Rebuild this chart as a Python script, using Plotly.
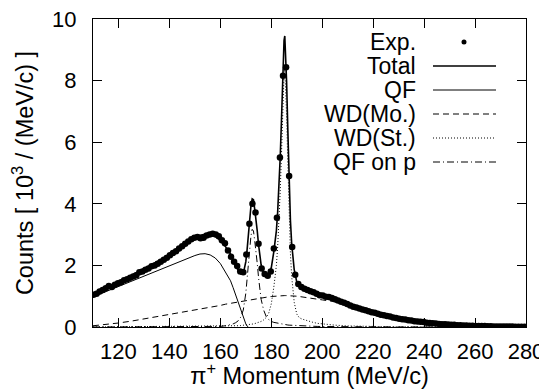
import plotly.graph_objects as go

# ---------------- experimental points ----------------
exp_x = [
    110.2, 111.4, 112.6, 113.8, 115.0, 116.2, 117.4, 118.6, 119.8, 121.0,
    122.2, 123.4, 124.6, 125.8, 127.0, 128.2, 129.4, 130.6, 131.8, 133.0,
    134.2, 135.4, 136.6, 137.8, 139.0, 140.2, 141.4, 142.6, 143.8, 145.0,
    146.2, 147.4, 148.6, 149.8, 151.0, 152.2, 153.4, 154.6, 155.8, 157.0,
    158.2, 159.4, 160.6, 161.8, 163.0, 164.2, 165.4, 166.6, 167.8, 169.0,
    170.2, 171.4, 172.6, 173.8, 175.0, 176.2, 177.4, 178.6, 179.8, 181.0,
    182.2, 183.4, 184.6, 185.8, 187.0, 188.2, 189.4, 190.6, 191.8, 193.0,
    194.2, 195.4, 196.6, 197.8, 199.0, 200.2, 201.4, 202.6, 203.8, 205.0,
    206.2, 207.4, 208.6, 209.8, 211.0, 212.2, 213.4, 214.6, 215.8, 217.0,
    218.2, 219.4, 220.6, 221.8, 223.0, 224.2, 225.4, 226.6, 227.8, 229.0,
    230.2, 231.4, 232.6, 233.8, 235.0, 236.2, 237.4, 238.6, 239.8, 241.0,
    242.2, 243.4, 244.6, 245.8, 247.0, 248.2, 249.4, 250.6, 251.8, 253.0,
    254.2, 255.4, 256.6, 257.8, 259.0, 260.2, 261.4, 262.6, 263.8, 265.0,
    266.2, 267.4, 268.6, 269.8, 271.0, 272.2, 273.4, 274.6, 275.8, 277.0,
    278.2, 279.4,
]
exp_y = [
    1.05, 1.08, 1.15, 1.20, 1.26, 1.33, 1.30, 1.37, 1.42, 1.45,
    1.52, 1.55, 1.60, 1.64, 1.68, 1.78, 1.80, 1.86, 1.90, 1.97,
    2.00, 2.05, 2.12, 2.18, 2.25, 2.33, 2.40, 2.46, 2.55, 2.62,
    2.70, 2.78, 2.85, 2.90, 2.92, 2.88, 2.90, 2.97, 3.00, 3.03,
    3.00, 2.95, 2.82, 2.72, 2.48, 2.28, 2.12, 1.98, 1.80, 1.78,
    2.35, 3.35, 4.00, 3.72, 2.70, 1.90, 1.72, 1.66, 1.80, 2.55,
    3.55, 5.50, 8.16, 8.43, 4.90, 2.60, 1.70, 1.40, 1.30, 1.24,
    1.20, 1.16, 1.13, 1.08, 1.03, 1.02, 0.98, 0.97, 0.94, 0.90,
    0.86, 0.82, 0.79, 0.75, 0.70, 0.66, 0.63, 0.60, 0.57, 0.54,
    0.51, 0.48, 0.46, 0.43, 0.40, 0.38, 0.36, 0.34, 0.31, 0.29,
    0.27, 0.25, 0.24, 0.22, 0.21, 0.19, 0.18, 0.17, 0.16, 0.14,
    0.13, 0.12, 0.11, 0.10, 0.09, 0.09, 0.08, 0.07, 0.07, 0.06,
    0.06, 0.05, 0.05, 0.04, 0.04, 0.035, 0.03, 0.03, 0.03, 0.025,
    0.025, 0.02, 0.02, 0.02, 0.02, 0.015, 0.015, 0.015, 0.01, 0.01,
    0.01, 0.01,
]

# ---------------- model curves (shared momentum grid) ----------------
curve_x = [
    110, 115, 120, 125, 130, 135, 140, 145, 150, 152,
    154, 156, 158, 160, 162, 164, 165, 166, 167, 168,
    169, 170, 170.5, 171, 171.5, 172, 172.5, 173, 173.5, 174,
    174.5, 175, 176, 177, 178, 179, 180, 181, 182, 182.5,
    183, 183.5, 184, 184.5, 185, 185.3, 185.6, 186, 186.5, 187,
    187.5, 188, 188.5, 189, 190, 191, 192, 194, 196, 198,
    200, 205, 210, 215, 220, 225, 230, 235, 240, 245,
    250, 255, 260, 265, 270, 275, 280,
]
total_y = [
    1.02, 1.24, 1.46, 1.67, 1.88, 2.10, 2.33, 2.60, 2.90, 2.98,
    3.01, 3.01, 2.95, 2.81, 2.61, 2.37, 2.21, 2.01, 1.83, 1.72,
    1.73, 2.12, 2.51, 3.00, 3.51, 3.92, 4.16, 4.13, 3.82, 3.54,
    3.11, 2.67, 2.02, 1.72, 1.62, 1.67, 1.92, 2.45, 3.13, 3.73,
    4.42, 5.51, 6.71, 8.11, 9.30, 9.45, 8.99, 7.99, 6.38, 4.78,
    3.48, 2.71, 2.21, 1.86, 1.46, 1.33, 1.27, 1.19, 1.12, 1.05,
    1.00, 0.89, 0.76, 0.62, 0.48, 0.36, 0.27, 0.20, 0.15, 0.11,
    0.079, 0.056, 0.039, 0.027, 0.019, 0.013, 0.009,
]
qf_y = [
    0.98, 1.15, 1.32, 1.49, 1.65, 1.82, 2.00, 2.17, 2.32, 2.37,
    2.38, 2.34, 2.24, 2.06, 1.80, 1.50, 1.28, 1.04, 0.78, 0.52,
    0.28, 0.10, 0.03, 0.0,
]
wd_mo_y = [
    0.04, 0.08, 0.13, 0.19, 0.26, 0.33, 0.40, 0.47, 0.55, 0.58,
    0.61, 0.64, 0.67, 0.70, 0.74, 0.77, 0.79, 0.80, 0.82, 0.83,
    0.85, 0.86, 0.87, 0.88, 0.88, 0.89, 0.90, 0.91, 0.91, 0.92,
    0.93, 0.93, 0.95, 0.96, 0.97, 0.98, 0.99, 1.00, 1.00, 1.01,
    1.01, 1.01, 1.02, 1.02, 1.02, 1.02, 1.02, 1.02, 1.02, 1.02,
    1.02, 1.01, 1.01, 1.01, 1.00, 0.99, 0.98, 0.96, 0.94, 0.91,
    0.88, 0.82, 0.72, 0.59, 0.46, 0.35, 0.26, 0.19, 0.145, 0.105,
    0.075, 0.053, 0.037, 0.026, 0.018, 0.012, 0.008,
]
wd_st_y = [
    0.0, 0.002, 0.003, 0.004, 0.005, 0.006, 0.008, 0.01, 0.012, 0.013,
    0.015, 0.017, 0.019, 0.022, 0.026, 0.031, 0.034, 0.038, 0.042, 0.047,
    0.053, 0.06, 0.065, 0.07, 0.076, 0.083, 0.09, 0.10, 0.11, 0.12,
    0.13, 0.145, 0.18, 0.23, 0.31, 0.45, 0.75, 1.30, 2.00, 2.60,
    3.30, 4.40, 5.60, 7.00, 8.20, 8.35, 7.90, 6.90, 5.30, 3.70,
    2.40, 1.65, 1.15, 0.80, 0.42, 0.30, 0.26, 0.20, 0.16, 0.12,
    0.10, 0.06, 0.035, 0.022, 0.015, 0.011, 0.008, 0.006, 0.005, 0.004,
    0.003, 0.002, 0.002, 0.001, 0.001, 0.001, 0.001,
]
qf_p_y = [
    0.0, 0.0, 0.0, 0.0, 0.0, 0.0, 0.005, 0.01, 0.015, 0.015,
    0.015, 0.018, 0.015, 0.02, 0.04, 0.07, 0.10, 0.14, 0.20, 0.32,
    0.55, 1.10, 1.55, 2.05, 2.55, 2.95, 3.17, 3.12, 2.80, 2.50,
    2.05, 1.60, 0.90, 0.55, 0.34, 0.24, 0.18, 0.15, 0.13, 0.12,
    0.11, 0.10, 0.09, 0.085, 0.08, 0.075, 0.07, 0.068, 0.064, 0.06,
    0.057, 0.054, 0.05, 0.047, 0.042, 0.038, 0.034, 0.028, 0.023, 0.019,
    0.016, 0.01, 0.007, 0.005, 0.004, 0.003, 0.002, 0.002, 0.001, 0.001,
    0.001, 0.001, 0.0, 0.0, 0.0, 0.0, 0.0,
]

x_ticks = [120, 140, 160, 180, 200, 220, 240, 260, 280]
y_ticks = [0, 2, 4, 6, 8, 10]

legend_labels = ["Exp.", "Total", "QF", "WD(Mo.)", "WD(St.)", "QF on p"]

FONT = "Liberation Sans, Arial, Helvetica, sans-serif"
FS_TICK = 22
FS_TITLE = 23.5
FS_LEG = 23

dash_mo = "6px,4px"
dash_st = "1px,2px"
dash_p = "7px,3px,1px,3px"

fig = go.Figure()
fig.add_trace(go.Scatter(x=curve_x[:len(qf_y)], y=qf_y, mode="lines",
                         line=dict(color="black", width=1)))
fig.add_trace(go.Scatter(x=curve_x, y=wd_mo_y, mode="lines",
                         line=dict(color="black", width=1, dash=dash_mo)))
fig.add_trace(go.Scatter(x=curve_x, y=wd_st_y, mode="lines",
                         line=dict(color="black", width=1, dash=dash_st)))
fig.add_trace(go.Scatter(x=curve_x, y=qf_p_y, mode="lines",
                         line=dict(color="black", width=1, dash=dash_p)))
fig.add_trace(go.Scatter(x=curve_x, y=total_y, mode="lines",
                         line=dict(color="black", width=1.6)))
fig.add_trace(go.Scatter(x=exp_x, y=exp_y, mode="markers",
                         marker=dict(color="black", size=6.5, line=dict(width=0))))

# The page body has an 8px margin: the figure starts 8px in from the corner;
# anything past the window edge is simply not shown.
OFF = 8
FIG_W, FIG_H = 547 - OFF, 389 - OFF
# target plot-area corners in window pixels
PL, PR, PT, PB = 93, 526, 19, 327
L, T = PL - OFF, PT - OFF
R = FIG_W - (PR - OFF)
B = FIG_H - (PB - OFF)
W, H = PR - PL, PB - PT

def px(x_win):
    return (x_win - PL) / W

def py(y_win):
    return (PB - y_win) / H

row_y = [42, 66, 90, 114, 138, 162]
text_right = 418
samp_x0, samp_x1 = 433, 496
annotations = []
shapes = []
for lab, yy in zip(legend_labels, row_y):
    annotations.append(dict(x=px(text_right), y=py(yy), xref="paper", yref="paper",
                            text=lab, showarrow=False, xanchor="right", yanchor="middle",
                            font=dict(family=FONT, size=FS_LEG, color="black")))
styles = [None, ("solid", 1.6), ("solid", 1), (dash_mo, 1), (dash_st, 1), (dash_p, 1)]
for st, yy in zip(styles, row_y):
    if st is None:
        cx, cy = 464, yy
        shapes.append(dict(type="circle", xref="paper", yref="paper",
                           x0=px(cx - 2.5), x1=px(cx + 2.5), y0=py(cy + 2.5), y1=py(cy - 2.5),
                           fillcolor="black", line=dict(width=0)))
    else:
        shapes.append(dict(type="line", xref="paper", yref="paper",
                           x0=px(samp_x0), x1=px(samp_x1), y0=py(yy), y1=py(yy),
                           line=dict(color="black", width=st[1], dash=st[0])))

axis_common = dict(showline=True, linecolor="black", linewidth=1.3, mirror="ticks",
                   ticks="inside", ticklen=9, tickwidth=1.3, tickcolor="black",
                   showgrid=False, zeroline=False, automargin=False,
                   ticklabeloverflow="allow",
                   tickfont=dict(family=FONT, size=FS_TICK, color="black"))

fig.update_layout(
    template="none",
    width=FIG_W, height=FIG_H,
    margin=dict(l=L, r=R, t=T, b=B, pad=0),
    paper_bgcolor="white", plot_bgcolor="white",
    showlegend=False,
    xaxis=dict(range=[110, 280], tickvals=x_ticks, ticklabelstandoff=4,
               title=dict(text="π<sup>+</sup> Momentum (MeV/c)", standoff=4,
                          font=dict(family=FONT, size=FS_TITLE, color="black")),
               **axis_common),
    yaxis=dict(range=[0, 10], tickvals=y_ticks, ticklabelstandoff=11,
               title=dict(text="Counts [ 10<sup>3</sup> / (MeV/c) ]", standoff=12,
                          font=dict(family=FONT, size=FS_TITLE, color="black")),
               **axis_common),
    annotations=annotations,
    shapes=shapes,
)

fig.write_html("out.html")
